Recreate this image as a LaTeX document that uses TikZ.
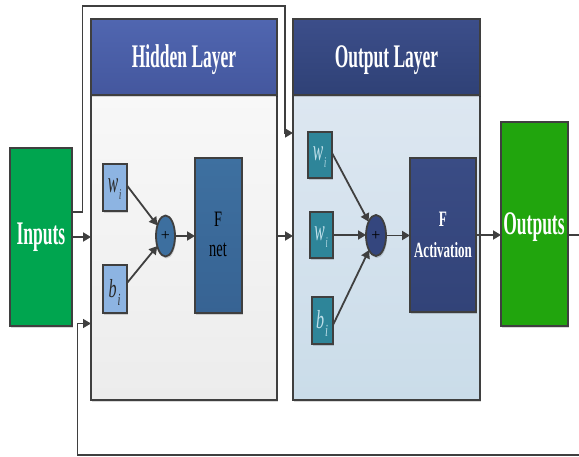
\documentclass[tikz,border=0pt]{standalone}
\usepackage{fontspec}
\setmainfont{Liberation Serif}
\usetikzlibrary{arrows.meta,shadows,shapes.geometric}
\definecolor{edge}{HTML}{3F3F3F}
\definecolor{ingreen}{HTML}{00A54F}
\definecolor{outgreen}{HTML}{21A50D}
\definecolor{hheadT}{HTML}{5066B0}
\definecolor{hheadB}{HTML}{44579E}
\definecolor{oheadT}{HTML}{3C4E8A}
\definecolor{oheadB}{HTML}{2F4176}
\definecolor{hbodyT}{HTML}{F8F8F8}
\definecolor{hbodyB}{HTML}{ECECEC}
\definecolor{obodyT}{HTML}{DDE7F1}
\definecolor{obodyB}{HTML}{CADCE9}
\definecolor{hsmall}{HTML}{8DB4E2}
\definecolor{osmall}{HTML}{2E8599}
\definecolor{hplusc}{HTML}{3D6F9F}
\definecolor{oplusc}{HTML}{34467E}
\definecolor{fnetT}{HTML}{3E70A0}
\definecolor{fnetB}{HTML}{376393}
\definecolor{factT}{HTML}{3A4C85}
\definecolor{factB}{HTML}{324378}
\definecolor{olab}{HTML}{BFE0EA}
\definecolor{hlab}{HTML}{2A2A2A}
\newcommand{\cnd}[3]{\scalebox{#1}[1]{\fontsize{#2}{#2}\selectfont #3}}
\newcommand{\sublab}[5]{\scalebox{#5}[1]{\fontsize{#2}{#2}\selectfont\itshape #1\kern1.5pt\raisebox{-#4}{\fontsize{#3}{#3}\selectfont i}}}
\begin{document}
\begin{tikzpicture}[x=1pt,y=-1pt,
  box/.style={draw=edge, line width=1.8pt, inner sep=0pt, outer sep=0pt,
    drop shadow={shadow xshift=1pt,shadow yshift=-2pt,fill=black,opacity=0.15}},
  arr/.style={draw=edge, line width=1.8pt, -{Triangle[length=8pt,width=9pt]}},
  thinarr/.style={draw=edge, line width=1.5pt, -{Triangle[length=8pt,width=9pt]}},
  ln/.style={draw=edge, line width=1.5pt},
  ttl/.style={text=white, anchor=base, inner sep=0pt, font=\bfseries},
  dtxt/.style={text=black, anchor=base, inner sep=0pt},
  plusnode/.style={box, ellipse, minimum width=19pt, minimum height=41pt},
]
\useasboundingbox (0,0) rectangle (579,457);

% panels
\node[box, minimum width=186pt, minimum height=305pt, top color=hbodyT, bottom color=hbodyB] (hbody) at (184,247.5) {};
\node[box, minimum width=186pt, minimum height=76pt, top color=hheadT, bottom color=hheadB] (hhead) at (184,57) {};
\node[ttl] (hheadT) at (184,68) {\cnd{0.53}{33}{\bfseries Hidden Layer}};

\node[box, minimum width=187pt, minimum height=305pt, top color=obodyT, bottom color=obodyB] (obody) at (386.5,247.5) {};
\node[box, minimum width=187pt, minimum height=76pt, top color=oheadT, bottom color=oheadB] (ohead) at (386.5,57) {};
\node[ttl] (oheadT) at (386.5,68) {\cnd{0.53}{33}{\bfseries Output Layer}};

% inputs / outputs
\node[box, minimum width=62pt, minimum height=178pt, fill=ingreen] (in) at (41,237) {};
\node[ttl] (inT) at (41,245) {\cnd{0.53}{33}{\bfseries Inputs}};
\node[box, minimum width=67pt, minimum height=204pt, fill=outgreen] (out) at (534.5,224) {};
\node[ttl] (outT) at (534,234.5) {\cnd{0.53}{33}{\bfseries Outputs}};

% hidden layer content
\node[box, minimum width=24pt, minimum height=47pt, fill=hsmall] (hwi) at (115,187.5) {};
\node[text=hlab, inner sep=0pt] (hwiT) at (114.5,189) {\sublab{w}{30}{15}{7pt}{0.52}};
\node[box, minimum width=24pt, minimum height=48pt, fill=hsmall] (hbi) at (115,289) {};
\node[text=hlab, inner sep=0pt] (hbiT) at (114.5,292) {\sublab{b}{26}{17}{8pt}{0.62}};
\node[plusnode, fill=hplusc] (hplus) at (165.5,236) {};
\node[text=black, inner sep=0pt] (hplusT) at (165.5,236) {\fontsize{16}{16}\selectfont +};
\node[box, minimum width=47pt, minimum height=155pt, top color=fnetT, bottom color=fnetB] (fnet) at (218.5,235.5) {};
\node[dtxt] (fnetF) at (218,227) {\cnd{0.65}{22}{F}};
\node[dtxt] (fnetN) at (218,257) {\cnd{0.6}{24}{net}};

% output layer content
\node[box, minimum width=24pt, minimum height=46pt, fill=osmall] (owa) at (320,155) {};
\node[text=olab, inner sep=0pt] (owaT) at (319.5,157) {\sublab{w}{30}{15}{7pt}{0.52}};
\node[box, minimum width=23pt, minimum height=46pt, fill=osmall] (owb) at (321.5,235) {};
\node[text=olab, inner sep=0pt] (owbT) at (321,237) {\sublab{w}{30}{15}{7pt}{0.52}};
\node[box, minimum width=21pt, minimum height=47pt, fill=osmall] (obi) at (322.5,320.5) {};
\node[text=olab, inner sep=0pt] (obiT) at (322,323) {\sublab{b}{26}{17}{8pt}{0.62}};
\node[plusnode, minimum width=20pt, fill=oplusc] (oplus) at (376,235.5) {};
\node[text=black, inner sep=0pt] (oplusT) at (376,235.5) {\fontsize{16}{16}\selectfont +};
\node[box, minimum width=66pt, minimum height=154pt, top color=factT, bottom color=factB] (fact) at (443,235) {};
\node[ttl] (factF) at (443,226.5) {\cnd{0.6}{22}{\bfseries F}};
\node[ttl] (factA) at (443,257.5) {\cnd{0.6}{21.7}{\bfseries Activation}};

% loop corners
\coordinate (tl) at (82.5,6);
\coordinate (tr) at (285,6);
\coordinate (re) at (579,235);
\coordinate (br) at (579,455);
\coordinate (bl) at (77.5,455);

% connectors
\draw[arr] (in.east) -- (hbody.west |- in.east);
\draw[thinarr] ([yshift=25pt]in.east) -| (tl) -- (tr) |- ([yshift=114.5pt]obody.west);
\draw[thinarr] (br) -- (bl) |- ([yshift=-76pt]hbody.west);
\draw[arr] ([yshift=11.5pt]hbody.east) -- ([yshift=11.5pt]obody.west);
\draw[arr] ([yshift=2pt]hwi.east) -- (hplus);
\draw[arr] ([yshift=6pt]hbi.east) -- (hplus);
\draw[arr] (hplus.east) -- (fnet.west |- hplus.east);
\draw[arr] ([yshift=2pt]owa.east) -- (oplus);
\draw[arr] (owb.east) -- (oplus.west |- owb.east);
\draw[arr] ([yshift=-4.5pt]obi.east) -- (oplus);
\draw[arr] (oplus.east) -- (fact.west |- oplus.east);
\draw[arr] (fact.east) -- (out.west |- fact.east);
\draw[ln] (out.east |- re) -- (re);
\end{tikzpicture}
\end{document}
